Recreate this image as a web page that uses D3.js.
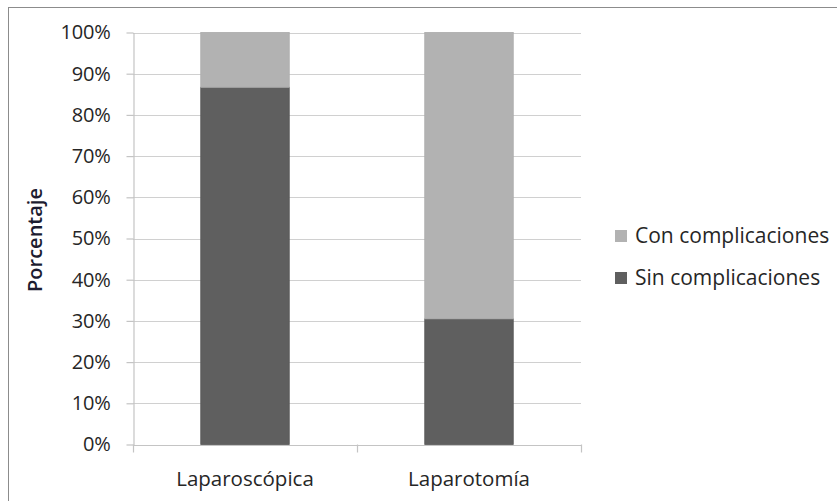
<!DOCTYPE html>
<html><head><meta charset="utf-8">
<script src="https://cdn.jsdelivr.net/npm/d3@7"></script>
<style>body{margin:0;background:#fff}svg{display:block}</style>
</head><body>
<svg id="c" width="837" height="501"></svg>
<script>
const categories = ["Laparoscópica", "Laparotomía"];
const sinComplicaciones = [86.7, 30.5];
const conComplicaciones = [13.3, 69.5];
const seriesNames = ["Con complicaciones", "Sin complicaciones"];
const yTicks = [0,10,20,30,40,50,60,70,80,90,100];

const svg = d3.select("#c");
const font = "'Open Sans', sans-serif";
svg.append("rect").attr("x",8.5).attr("y",7.5).attr("width",840).attr("height",510)
  .attr("fill","#fff").attr("stroke","#8c8c8c").attr("stroke-width",1);

const m = {l:133, r:581, t:32.5, b:444.5};
const x = d3.scaleBand().domain(categories).range([m.l,m.r]).paddingInner(0.605).paddingOuter(0.3025);
const y = d3.scaleLinear().domain([0,100]).range([m.b,m.t]);

// gridlines
svg.append("g").selectAll("line").data(yTicks.filter(d=>d>0)).join("line")
  .attr("x1",m.l).attr("x2",m.r).attr("y1",d=>Math.round(y(d))+0.5).attr("y2",d=>Math.round(y(d))+0.5)
  .attr("stroke","#d0d0d0").attr("stroke-width",1.2);

const rows = categories.map((c,i)=>({cat:c, sin:sinComplicaciones[i], con:conComplicaciones[i]}));
const stack = d3.stack().keys(["sin","con"])(rows);
const colors = {sin:"#5f5f5f", con:"#b2b2b2"};
svg.append("g").selectAll("g").data(stack).join("g")
  .attr("fill",d=>colors[d.key]).attr("stroke",d=>d.key==="sin"?"#575757":"#aaaaaa").attr("stroke-width",0.8)
  .selectAll("rect").data(d=>d).join("rect")
  .attr("x",d=>x(d.data.cat)).attr("width",x.bandwidth())
  .attr("y",d=>y(d[1])).attr("height",d=>y(d[0])-y(d[1]));

// y axis
const ya = svg.append("g").attr("transform",`translate(${m.l+0.5},0)`)
  .call(d3.axisLeft(y).tickValues(yTicks).tickFormat(d=>d+"%").tickSize(7).tickSizeOuter(0));
ya.select(".domain").attr("stroke","#c4c4c4").attr("stroke-width",1.2);
ya.selectAll(".tick line").attr("stroke","#c4c4c4").attr("stroke-width",1.2);
ya.selectAll("text").attr("font-family",font).attr("font-size",20).attr("letter-spacing",-0.2).attr("fill","#262626").attr("x",-23);

// x axis
const xa = svg.append("g").attr("transform",`translate(0,${m.b+0.5})`)
  .call(d3.axisBottom(x).tickSize(0).tickSizeOuter(0));
xa.select(".domain").attr("stroke","#c4c4c4").attr("stroke-width",1.2);
xa.selectAll(".tick line").remove();
xa.selectAll("text").attr("font-family",font).attr("font-size",20.5).attr("fill","#262626").attr("dy",0).attr("y",41);
const xb = [m.l, (m.l+m.r)/2, m.r];
svg.append("g").selectAll("line").data(xb).join("line")
  .attr("x1",d=>Math.round(d)+0.5).attr("x2",d=>Math.round(d)+0.5).attr("y1",m.b).attr("y2",m.b+8)
  .attr("stroke","#c4c4c4").attr("stroke-width",1.2);

// y title
svg.append("text").attr("transform","translate(42,240) rotate(-90)").attr("text-anchor","middle")
  .attr("font-family",font).attr("font-size",20).attr("font-weight",600).attr("fill","#1c1c30").text("Porcentaje");

// legend
const lg = svg.append("g").selectAll("g").data(seriesNames).join("g")
  .attr("transform",(d,i)=>`translate(615,${236+i*42})`);
lg.append("rect").attr("x",0).attr("y",-6).attr("width",12).attr("height",12)
  .attr("fill",(d,i)=>i===0?colors.con:colors.sin);
lg.append("text").attr("x",20).attr("y",7).attr("font-family",font).attr("font-size",21).attr("fill","#262626").text(d=>d);
</script>
</body></html>
